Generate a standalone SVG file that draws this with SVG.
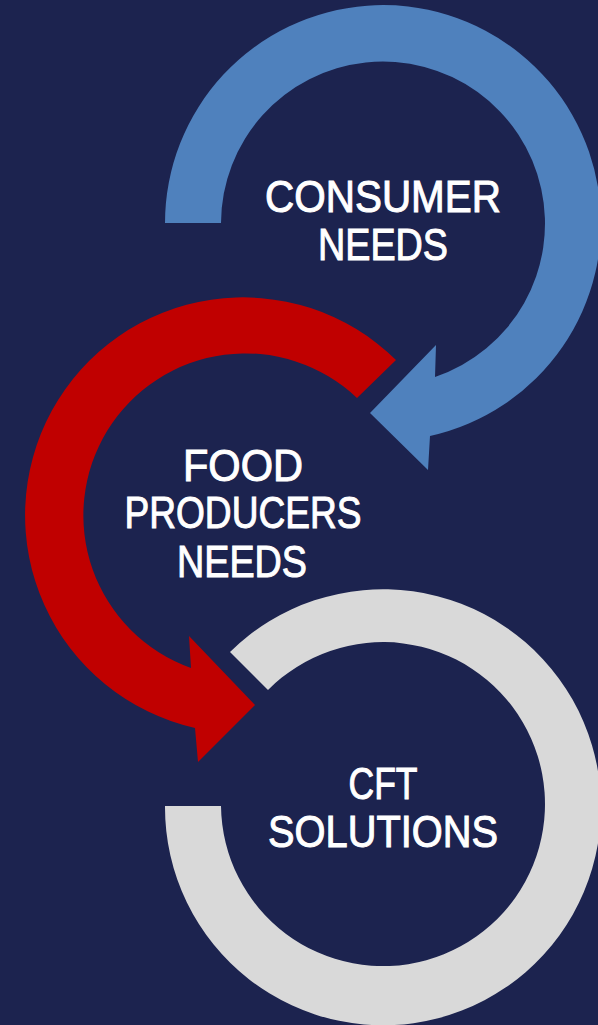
<svg xmlns="http://www.w3.org/2000/svg" width="598" height="1025" viewBox="0 0 598 1025">
<style>
.lbl{font-family:"Liberation Sans","DejaVu Sans",sans-serif;font-size:44px;fill:#ffffff;stroke:#ffffff;stroke-width:1;text-anchor:middle}
.blue{fill:#4f81bd}
.red{fill:#c00000}
.gray{fill:#d9d9d9}
</style>
<rect width="598" height="1025" fill="#1c234f"/>
<g id="consumer-needs">
<path class="blue" d="M 165 223 A 218 218 0 1 1 430 436 L 428 470 L 370 413 L 436 345 L 435 377 A 162 162 0 1 0 221 223 Z"/>
<text class="lbl" x="383" y="212" textLength="236" lengthAdjust="spacingAndGlyphs">CONSUMER</text>
<text class="lbl" x="383" y="260" textLength="130" lengthAdjust="spacingAndGlyphs">NEEDS</text>
</g>
<g id="food-producers-needs">
<path class="red" d="M 396 360 A 218 218 0 1 0 195 728 L 198 762 L 255 705 L 189 636 L 191 668 A 162 162 0 1 1 357 398 Z"/>
<text class="lbl" x="243" y="481" textLength="120" lengthAdjust="spacingAndGlyphs">FOOD</text>
<text class="lbl" x="243" y="528" textLength="237" lengthAdjust="spacingAndGlyphs">PRODUCERS</text>
<text class="lbl" x="242" y="577" textLength="130" lengthAdjust="spacingAndGlyphs">NEEDS</text>
</g>
<g id="cft-solutions">
<path class="gray" d="M 230 652 A 218 218 0 1 1 165 806 L 221 806 A 162 162 0 1 0 268 690 Z"/>
<text class="lbl" x="383" y="799" textLength="69" lengthAdjust="spacingAndGlyphs">CFT</text>
<text class="lbl" x="383" y="847" textLength="230" lengthAdjust="spacingAndGlyphs">SOLUTIONS</text>
</g>
</svg>
